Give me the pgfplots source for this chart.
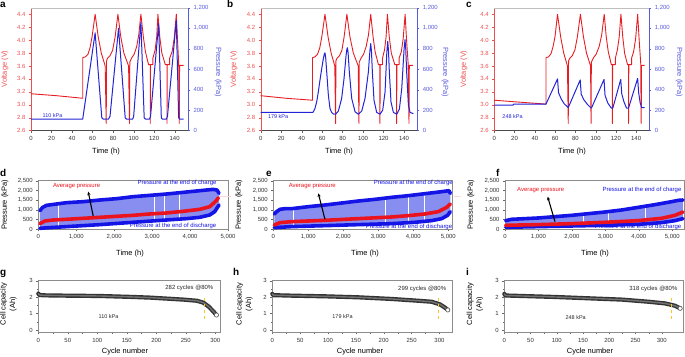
\documentclass[border=0pt]{standalone}
\usepackage{fontspec}
\setmainfont{Liberation Sans}
\usepackage{pgfplots}
\pgfplotsset{compat=1.18}
\usetikzlibrary{arrows.meta}
\definecolor{vred}{RGB}{230,30,35}
\definecolor{pblue}{RGB}{35,35,215}
\definecolor{axred}{RGB}{235,80,80}
\definecolor{axblue}{RGB}{90,90,220}
\definecolor{band}{RGB}{135,142,240}
\definecolor{tblue}{RGB}{20,20,230}
\definecolor{avgred}{RGB}{235,20,30}
\definecolor{ylw}{RGB}{250,200,30}
\newcommand{\tkf}{\fontsize{6}{7}\selectfont}
\newcommand{\lbf}{\fontsize{7.5}{8.5}\selectfont}
\newcommand{\anf}{\fontsize{6}{7}\selectfont}
\newcommand{\pnf}{\fontsize{10}{11}\selectfont\bfseries}
\pgfplotsset{
  common/.style={scale only axis, anchor=south west, clip=false,
    tick label style={font=\tkf, color=black!80},
    /pgf/number format/assume math mode=true,
    /pgf/number format/1000 sep={,},
    scaled ticks=false, tick align=outside,
    major tick length=2bp, minor tick length=1.2bp,
    every tick/.append style={black!60}},
  top/.style={common, height=122.8bp, xmin=0, xmax=153, ymin=2.6, ymax=4.5,
    axis x line*=bottom, axis y line*=left,
    x axis line style={black!70,-}, y axis line style={axred,-},
    xtick={0,20,...,140},
    ytick={2.6,2.8,3.0,3.2,3.4,3.6,3.8,4.0,4.2,4.4},
    yticklabel style={color=axred, /pgf/number format/fixed, /pgf/number format/fixed zerofill, /pgf/number format/precision=1},
    ytick style={axred}},
  topr/.style={common, height=122.8bp, xmin=0, xmax=153, ymin=0, ymax=1200,
    axis y line*=right, axis x line*=top, xtick=\empty,
    x axis line style={black!25,-}, y axis line style={axblue,-},
    ytick={0,200,...,1200}, yticklabel style={color=axblue}, ytick style={axblue}},
  mid/.style={common, height=48.6bp, xmin=0, ymin=0, ymax=2500,
    axis line style={black!45}, xtick pos=bottom, ytick pos=left,
    xtick={0,1000,...,5000}, ytick={0,500,...,2500}},
  bot/.style={common, height=51.8bp, xmin=0, ymin=-0.15, ymax=3,
    axis line style={black!45}, xtick pos=bottom, ytick pos=left,
    xtick={0,50,...,300}, ytick={0,1,2,3}, minor x tick num=1, minor y tick num=1},
  vline/.style={vred, line width=0.9bp, line join=round},
  pline/.style={pblue, line width=1bp, line join=round},
  bnd/.style={tblue, line width=3.6bp, line cap=round, line join=round},
  avg/.style={avgred, line width=3.6bp, line cap=round, line join=round},
  gap/.style={white, line width=0.9bp},
  capo/.style={black!80, line width=4.2bp, line cap=round, line join=round},
  capi/.style={black!55, line width=1.4bp, line cap=round, line join=round},
  yel/.style={ylw, dashed, line width=0.9bp},
}
\begin{document}
\begin{tikzpicture}
\path[use as bounding box] (0,0) rectangle (685bp,357bp);

% ---------- panel a ----------
\begin{axis}[top, at={(31bp,226.4bp)}, width=157bp]
\addplot[vline] coordinates {(0,3.17) (25,3.14) (50.4,3.10) (50.4,3.73) (53,3.74) (55.5,3.78) (57.5,3.88) (59.5,4.05) (62.5,4.40) (65.5,4.05) (68.5,3.80) (72.3,3.60) (73.3,2.71) (73.6,3.68) (74.6,3.72) (77,3.76) (79.5,3.84) (82,4.05) (84.7,4.40) (87.5,4.05) (90.5,3.80) (95.1,3.60) (96,2.71) (96.3,3.66) (98.3,3.73) (100.5,3.78) (103,3.90) (105,4.08) (107.1,4.40) (109.5,4.05) (111.5,3.82) (114.6,3.62) (116.2,3.62) (116.2,2.71) (116.5,3.62) (118.8,3.62) (118.8,3.72) (121,3.85) (122.5,4.05) (123.7,4.40) (125.5,4.05) (127.5,3.80) (130.9,3.62) (132.5,3.62) (132.5,2.71) (132.8,3.62) (135.1,3.62) (135.1,3.72) (137.5,3.82) (139.5,4.02) (141.6,4.40) (142.8,4.00) (143.9,3.65) (144.5,2.71) (144.8,3.61) (148.8,3.61)};
\node[font=\fontsize{5.5}{6}\selectfont, color=pblue] at (axis cs:21,2.84) {110 kPa};
\end{axis}
\begin{axis}[topr, at={(31bp,226.4bp)}, width=157bp]
\addplot[pline] coordinates {(0,112) (50.4,112) (62.5,955) (69,125) (70.5,112) (75.5,112) (77,140) (85.3,1000) (91.8,125) (93,112) (99,112) (100,135) (107.1,1060) (110.3,125) (111.5,112) (115.5,112) (116.5,140) (124.4,1045) (127,125) (128,112) (132,112) (133,140) (141.6,1075) (143.9,125) (145,112) (148.8,112)};
\end{axis}

% ---------- panel b ----------
\begin{axis}[top, at={(260.7bp,226.4bp)}, width=156.6bp]
\addplot[vline] coordinates {(0,3.14) (25,3.10) (50.6,3.07) (50.6,3.73) (53,3.74) (55.5,3.78) (57.7,3.88) (59.7,4.05) (62.8,4.40) (65.8,4.05) (68.8,3.80) (72.4,3.60) (73.2,2.71) (73.5,3.68) (74.6,3.72) (77,3.76) (79.3,3.84) (81.5,4.05) (84.2,4.40) (87.2,4.05) (90.5,3.80) (95.3,3.60) (96,2.71) (96.3,3.66) (98.3,3.73) (100.5,3.78) (103,3.90) (105.3,4.08) (107.5,4.40) (109.8,4.05) (111.8,3.82) (115,3.62) (116.5,3.62) (116.5,2.71) (116.8,3.62) (119,3.62) (119,3.72) (121,3.85) (122.5,4.05) (123.8,4.40) (125.6,4.05) (127.6,3.80) (131,3.62) (132.8,3.62) (132.8,2.71) (133.1,3.62) (135.2,3.62) (135.2,3.72) (137.4,3.82) (139.2,4.02) (141.1,4.40) (142.5,4.00) (144.0,3.65) (144.9,2.71) (145.2,3.61) (149,3.61)};
\node[font=\fontsize{5.5}{6}\selectfont, color=pblue] at (axis cs:17,2.81) {179 kPa};
\end{axis}
\begin{axis}[topr, at={(260.7bp,226.4bp)}, width=156.6bp]
\addplot[pline] coordinates {(0,178) (50.8,178) (51.4,184) (53,216) (54.7,281) (56.3,379) (57.9,492) (59.6,605) (61.2,703) (62.2,750) (62.8,760) (63.5,710) (64.5,573) (66.1,346) (67.7,216) (69.3,178) (71,162) (73.2,160) (75.9,191) (79.1,314) (81.4,508) (83.4,735) (84.2,795) (84.7,810) (85.4,760) (86.6,573) (88.9,314) (92.2,184) (95.4,160) (98.7,191) (101.9,314) (105.2,573) (106.7,780) (107.5,850) (108.2,780) (109.1,573) (110.7,297) (113.3,178) (116.6,160) (119.2,200) (121.5,379) (123.2,760) (124.1,872) (124.8,790) (125.7,573) (127.3,281) (129.6,178) (132.9,160) (135.5,210) (137.8,411) (140.1,800) (141,888) (141.7,800) (142.6,573) (144.3,249) (145.9,178) (149.1,165)};
\end{axis}

% ---------- panel c ----------
\begin{axis}[top, at={(494.3bp,226.4bp)}, width=155bp]
\addplot[vline] coordinates {(0,3.07) (25,3.04) (51,3.01) (51,3.73) (53.5,3.74) (56,3.79) (58,3.90) (60,4.06) (62.4,4.40) (65.5,4.05) (68.5,3.80) (72.2,3.60) (73,2.71) (73.3,3.68) (74.5,3.72) (77,3.76) (79.6,3.85) (82,4.05) (85,4.40) (88,4.05) (91,3.80) (95,3.60) (95.5,2.71) (95.8,3.66) (98,3.73) (100.5,3.78) (103.5,3.90) (106,4.08) (108.5,4.40) (110.5,4.05) (112.5,3.82) (115.5,3.62) (116.5,3.62) (116.5,2.71) (116.8,3.62) (119.5,3.62) (119.5,3.72) (121.5,3.85) (123.3,4.05) (125,4.40) (126.8,4.05) (128.6,3.80) (131.5,3.62) (132.5,3.62) (132.5,2.71) (132.8,3.62) (135.5,3.62) (135.5,3.72) (137.5,3.82) (139.5,4.02) (141.5,4.40) (143,4.00) (144.5,3.65) (145,2.71) (145.3,3.61) (148.5,3.61)};
\node[font=\fontsize{5.5}{6}\selectfont, color=pblue] at (axis cs:18,2.81) {248 kPa};
\end{axis}
\begin{axis}[topr, at={(494.3bp,226.4bp)}, width=155bp]
\addplot[pline] coordinates {(0,248) (18.5,248) (19,259) (51,259) (62.4,505) (63.4,370) (66,310) (69,262) (73,225) (84.8,495) (85.8,355) (88.5,300) (92,255) (95.3,222) (96,222) (108.3,500) (109.3,345) (112,270) (115.5,220) (117,220) (124.8,500) (125.8,360) (128,280) (130.5,220) (132.5,220) (141.5,510) (142.5,370) (144,270) (145.5,225) (148.5,225)};
\end{axis}

% ---------- panel d ----------
\begin{axis}[mid, at={(38.3bp,127.7bp)}, width=189.7bp, xmax=5000]
\addplot[fill=band, draw=none] coordinates {(44,959) (114,1130) (219,1233) (746,1370) (1184,1421) (1623,1507) (2061,1575) (2500,1678) (2939,1746) (3377,1815) (3816,1900) (4254,1986) (4605,2054) (4711,2020) (4763,1849) (4763,1250) (4649,907) (4518,736) (4254,616) (3904,548) (3377,479) (2500,360) (1623,240) (746,137) (307,86) (44,51)};
\addplot[gap] coordinates {(526,115) (526,1340)};
\addplot[gap] coordinates {(3070,420) (3070,1760)};
\addplot[gap] coordinates {(3333,470) (3333,1805)};
\addplot[gap] coordinates {(3728,530) (3728,1880)};
\addplot[bnd] coordinates {(44,959) (114,1130) (219,1233) (746,1370) (1184,1421) (1623,1507) (2061,1575) (2500,1678) (2939,1746) (3377,1815) (3816,1900) (4254,1986) (4605,2054) (4711,2020) (4763,1849)};
\addplot[bnd] coordinates {(44,51) (307,86) (746,137) (1623,240) (2500,360) (3377,479) (3904,548) (4254,616) (4518,736) (4649,907) (4763,1250)};
\addplot[avg] coordinates {(44,291) (175,428) (395,479) (746,514) (1623,616) (2500,719) (2939,788) (3377,839) (3816,924) (4254,1027) (4518,1164) (4693,1472) (4746,1626)};
\draw[-{Stealth[length=3.5bp,width=3.2bp]}, line width=1.1bp] (axis cs:1447,685) -- (axis cs:1316,1935);
\node[font=\anf, color=avgred] at (axis cs:1009,2225) {Average pressure};
\node[font=\anf, color=tblue] at (axis cs:3658,2362) {Pressure at the end of charge};
\node[font=\anf, color=tblue] at (axis cs:3553,171) {Pressure at the end of discharge};
\end{axis}

% ---------- panel e ----------
\begin{axis}[mid, at={(273.3bp,127.7bp)}, width=178.5bp, xmax=5100]
\addplot[fill=band, draw=none] coordinates {(29,788) (95,907) (190,1027) (333,1061) (524,1061) (1000,1164) (1476,1250) (1952,1352) (2429,1455) (2905,1541) (3381,1644) (3857,1729) (4333,1832) (4810,1935) (5019,1986) (5057,1849) (5057,907) (4981,719) (4810,548) (4524,445) (4048,360) (3381,291) (2429,240) (1476,188) (524,137) (29,86)};
\addplot[gap] coordinates {(571,140) (571,1070)};
\addplot[gap] coordinates {(3190,280) (3190,1610)};
\addplot[gap] coordinates {(3857,340) (3857,1729)};
\addplot[gap] coordinates {(4314,420) (4314,1830)};
\addplot[bnd] coordinates {(29,788) (95,907) (190,1027) (333,1061) (524,1061) (1000,1164) (1476,1250) (1952,1352) (2429,1455) (2905,1541) (3381,1644) (3857,1729) (4333,1832) (4810,1935) (5019,1986) (5057,1849)};
\addplot[bnd] coordinates {(29,86) (524,137) (1476,188) (2429,240) (3381,291) (4048,360) (4524,445) (4810,548) (4981,719) (5057,907)};
\addplot[avg] coordinates {(29,223) (190,342) (524,394) (1476,462) (2429,548) (3381,633) (3857,702) (4333,788) (4714,907) (4952,1130) (5057,1301)};
\draw[-{Stealth[length=3.5bp,width=3.2bp]}, line width=1.1bp] (axis cs:1476,514) -- (axis cs:1286,1849);
\node[font=\anf, color=avgred] at (axis cs:1114,2225) {Average pressure};
\node[font=\anf, color=tblue] at (axis cs:4000,2362) {Pressure at the end of charge};
\node[font=\anf, color=tblue] at (axis cs:3876,137) {Pressure at the end of discharge};
\end{axis}

% ---------- panel f ----------
\begin{axis}[mid, at={(505bp,127.7bp)}, width=179bp, xmax=5350]
\addplot[fill=band, draw=none] coordinates {(20,445) (199,514) (996,582) (1992,719) (2988,890) (3486,993) (3984,1130) (4482,1267) (4980,1421) (5179,1489) (5319,1507) (5319,548) (5080,445) (4681,342) (3984,257) (2988,205) (1992,171) (996,137) (20,103)};
\addplot[gap] coordinates {(2341,180) (2341,770)};
\addplot[gap] coordinates {(3088,210) (3088,905)};
\addplot[gap] coordinates {(4183,290) (4183,1180)};
\addplot[bnd] coordinates {(20,445) (199,514) (996,582) (1992,719) (2988,890) (3486,993) (3984,1130) (4482,1267) (4980,1421) (5179,1489) (5319,1507)};
\addplot[bnd] coordinates {(20,103) (996,137) (1992,171) (2988,205) (3984,257) (4681,342) (5080,445) (5319,548)};
\addplot[avg] coordinates {(20,205) (996,240) (1992,291) (2988,360) (3984,445) (4681,565) (5080,719) (5319,890)};
\draw[-{Stealth[length=3.5bp,width=3.2bp]}, line width=1.1bp] (axis cs:1494,394) -- (axis cs:1275,1678);
\node[font=\anf, color=avgred] at (axis cs:1066,2020) {Average pressure};
\node[font=\anf, color=tblue] at (axis cs:4094,2020) {Pressure at the end of charge};
\node[font=\anf, color=tblue] at (axis cs:3974,103) {Pressure at the end of discharge};
\end{axis}

% ---------- panel g ----------
\begin{axis}[bot, at={(38.3bp,24.5bp)}, width=181.7bp, xmax=308]
\addplot[capo] coordinates {(0,2.22) (2,2.13) (10,2.11) (48,2.09) (105,2.07) (161,2.01) (190,1.97) (218,1.91) (246,1.85) (269,1.78) (280,1.66) (289,1.42) (297,1.12) (302,0.91)};
\addplot[capi] coordinates {(0,2.22) (2,2.13) (10,2.11) (48,2.09) (105,2.07) (161,2.01) (190,1.97) (218,1.91) (246,1.85) (269,1.78) (280,1.66) (289,1.42) (297,1.12) (302,0.91)};
\addplot[only marks, mark=*, mark size=2.1bp, mark options={fill=white, draw=black!65, line width=0.6bp}] coordinates {(302,0.91)};
\addplot[yel] coordinates {(282,0.7) (282,2.13)};
\node[font=\anf, color=black!85] at (axis cs:256,2.54) {282 cycles @80\%};
\node[font=\fontsize{5.5}{6}\selectfont, color=black!85] at (axis cs:119,0.85) {110 kPa};
\end{axis}

% ---------- panel h ----------
\begin{axis}[bot, at={(272.3bp,24.5bp)}, width=179.4bp, xmax=322]
\addplot[capo] coordinates {(0,2.2) (2,2.12) (35,2.09) (95,2.05) (154,1.99) (214,1.89) (262,1.78) (286,1.72) (301,1.56) (310,1.36) (315,1.22)};
\addplot[capi] coordinates {(0,2.2) (2,2.12) (35,2.09) (95,2.05) (154,1.99) (214,1.89) (262,1.78) (286,1.72) (301,1.56) (310,1.36) (315,1.22)};
\addplot[only marks, mark=*, mark size=2.1bp, mark options={fill=white, draw=black!65, line width=0.6bp}] coordinates {(315,1.22)};
\addplot[yel] coordinates {(299,0.7) (299,2.13)};
\node[font=\anf, color=black!85] at (axis cs:269,2.47) {299 cycles @80\%};
\node[font=\fontsize{5.5}{6}\selectfont, color=black!85] at (axis cs:126,0.85) {179 kPa};
\end{axis}

% ---------- panel i ----------
\begin{axis}[bot, at={(504.3bp,24.5bp)}, width=179bp, xmax=341]
\addplot[capo] coordinates {(0,2.2) (2,2.1) (97,2.01) (160,1.93) (224,1.85) (275,1.72) (306,1.62) (325,1.48) (335,1.32)};
\addplot[capi] coordinates {(0,2.2) (2,2.1) (97,2.01) (160,1.93) (224,1.85) (275,1.72) (306,1.62) (325,1.48) (335,1.32)};
\addplot[only marks, mark=*, mark size=2.1bp, mark options={fill=white, draw=black!65, line width=0.6bp}] coordinates {(335,1.32)};
\addplot[yel] coordinates {(318,0.7) (318,2.05)};
\node[font=\anf, color=black!85] at (axis cs:284,2.47) {318 cycles @80\%};
\node[font=\fontsize{5.5}{6}\selectfont, color=black!85] at (axis cs:136,0.75) {248 kPa};
\end{axis}

% ---------- labels ----------
\begin{scope}[font=\lbf]
\node[rotate=90, color=axred] at (5bp,288bp) {Voltage (V)};
\node[rotate=90, color=axred] at (234bp,288bp) {Voltage (V)};
\node[rotate=90, color=axred] at (464bp,288bp) {Voltage (V)};
\node[rotate=-90, color=axblue] at (218bp,285bp) {Pressure (kPa)};
\node[rotate=-90, color=axblue] at (445bp,285bp) {Pressure (kPa)};
\node[rotate=-90, color=axblue] at (679bp,285bp) {Pressure (kPa)};
\node at (106bp,205.3bp) {Time (h)};
\node at (339bp,205.3bp) {Time (h)};
\node at (572bp,205.3bp) {Time (h)};
\node[rotate=90] at (5bp,152bp) {Pressure (kPa)};
\node[rotate=90] at (239bp,152bp) {Pressure (kPa)};
\node[rotate=90] at (471bp,152bp) {Pressure (kPa)};
\node at (130bp,103.7bp) {Time (h)};
\node at (365bp,103.7bp) {Time (h)};
\node at (595bp,103.7bp) {Time (h)};
\node[rotate=90, align=center, font=\fontsize{7.5}{9.5}\selectfont] at (8.5bp,53bp) {Cell capacity\\(Ah)};
\node[rotate=90, align=center, font=\fontsize{7.5}{9.5}\selectfont] at (244.5bp,53bp) {Cell capacity\\(Ah)};
\node[rotate=90, align=center, font=\fontsize{7.5}{9.5}\selectfont] at (475bp,53bp) {Cell capacity\\(Ah)};
\node at (125bp,5bp) {Cycle number};
\node at (360bp,5bp) {Cycle number};
\node at (590bp,5bp) {Cycle number};
\end{scope}
\begin{scope}[font=\pnf]
\node[anchor=base west, inner sep=0] at (0bp,349.5bp) {a};
\node[anchor=base west, inner sep=0] at (227bp,349.5bp) {b};
\node[anchor=base west, inner sep=0] at (466bp,349.5bp) {c};
\node[anchor=base west, inner sep=0] at (0bp,180.5bp) {d};
\node[anchor=base west, inner sep=0] at (266bp,180.5bp) {e};
\node[anchor=base west, inner sep=0] at (496bp,180.5bp) {f};
\node[anchor=base west, inner sep=0] at (0bp,81.5bp) {g};
\node[anchor=base west, inner sep=0] at (233bp,81.5bp) {h};
\node[anchor=base west, inner sep=0] at (466bp,81.5bp) {i};
\end{scope}
\draw[red!15, line width=0.5bp] (219bp,161bp) -- (231bp,161bp);
\draw[red!15, line width=0.5bp] (454bp,161bp) -- (461bp,161bp);
\end{tikzpicture}
\end{document}
